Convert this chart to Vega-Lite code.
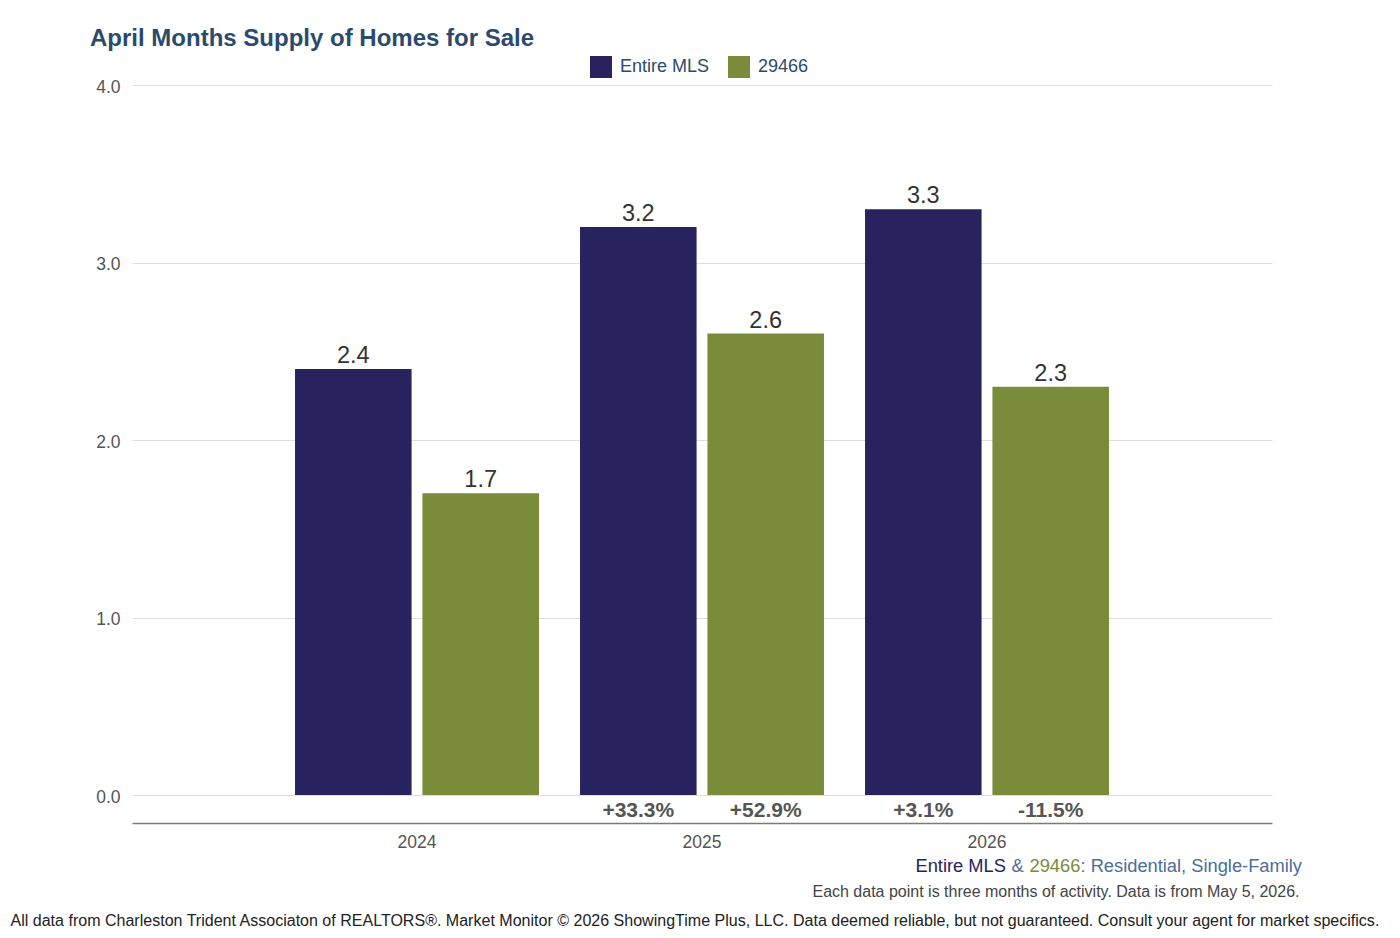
{
  "$schema": "https://vega.github.io/schema/vega-lite/v6.json",
  "autosize": {"type": "none"},
  "width": 1140,
  "height": 710,
  "padding": {"left": 132, "top": 85, "right": 128, "bottom": 143},
  "background": "#ffffff",
  "title": {
    "text": "April Months Supply of Homes for Sale",
    "anchor": "start",
    "frame": "group",
    "dx": -42,
    "dy": 5,
    "offset": 10,
    "font": "Liberation Sans",
    "fontSize": 24,
    "fontWeight": "bold",
    "color": "#2b4a6c"
  },
  "config": {
    "view": {"stroke": null},
    "font": "Liberation Sans",
    "axis": {"tickSize": 0, "ticks": false, "domain": false, "grid": false}
  },
  "data": {
    "values": [
      {"year": "2024", "series": "Entire MLS", "value": 2.4, "change": null},
      {"year": "2024", "series": "29466", "value": 1.7, "change": null},
      {"year": "2025", "series": "Entire MLS", "value": 3.2, "change": "+33.3%"},
      {"year": "2025", "series": "29466", "value": 2.6, "change": "+52.9%"},
      {"year": "2026", "series": "Entire MLS", "value": 3.3, "change": "+3.1%"},
      {"year": "2026", "series": "29466", "value": 2.3, "change": "-11.5%"}
    ]
  },
  "resolve": {"axis": {"x": "independent", "y": "independent"}},
  "layer": [
    {
      "mark": {"type": "bar"},
      "encoding": {
        "x": {
          "field": "year",
          "type": "ordinal",
          "scale": {"paddingInner": 0.144, "paddingOuter": 0.572},
          "axis": {
            "orient": "bottom",
            "offset": 28,
            "domain": true,
            "domainColor": "#7a7a7a",
            "domainWidth": 1.5,
            "labelAngle": 0,
            "labelFontSize": 17.5,
            "labelColor": "#555555",
            "labelPadding": 10,
            "title": "All data from Charleston Trident Associaton of REALTORS®. Market Monitor © 2026 ShowingTime Plus, LLC. Data deemed reliable, but not guaranteed. Consult your agent for market specifics.",
            "titleFontSize": 16.05,
            "titleFontWeight": "normal",
            "titleColor": "#222222",
            "titleAnchor": null,
            "titleAlign": "left",
            "titleBaseline": "middle",
            "titleX": -122,
            "titleY": 97
          }
        },
        "xOffset": {
          "field": "series",
          "type": "nominal",
          "sort": ["Entire MLS", "29466"],
          "scale": {"paddingInner": 0.085, "paddingOuter": 0}
        },
        "y": {
          "field": "value",
          "type": "quantitative",
          "scale": {"domain": [0, 4], "nice": false},
          "axis": {
            "orient": "left",
            "values": [0, 1, 2, 3, 4],
            "format": ".1f",
            "grid": true,
            "gridColor": "#dedede",
            "gridWidth": 1,
            "labelFontSize": 17.5,
            "labelColor": "#555555",
            "labelPadding": 12,
            "labelOffset": 2,
            "title": "Each data point is three months of activity. Data is from May 5, 2026.",
            "titleFontSize": 16,
            "titleFontWeight": "normal",
            "titleColor": "#444444",
            "titleAngle": 0,
            "titleAnchor": null,
            "titleAlign": "right",
            "titleBaseline": "middle",
            "titleX": 1167,
            "titleY": 806
          }
        },
        "color": {
          "field": "series",
          "type": "nominal",
          "sort": ["Entire MLS", "29466"],
          "scale": {"domain": ["Entire MLS", "29466"], "range": ["#28235f", "#7a8b3a"]},
          "legend": {
            "orient": "none",
            "legendX": 458,
            "legendY": -29,
            "direction": "horizontal",
            "title": null,
            "padding": 0,
            "symbolType": "square",
            "symbolSize": 484,
            "symbolStrokeWidth": 0,
            "symbolOpacity": 1,
            "labelFontSize": 18,
            "labelColor": "#2b4a6c",
            "labelOffset": 8,
            "columnPadding": 18
          }
        }
      }
    },
    {
      "mark": {"type": "text", "baseline": "alphabetic", "dy": -6, "fontSize": 23.5, "color": "#333333"},
      "encoding": {
        "x": {
          "field": "year",
          "type": "ordinal",
          "axis": {
            "orient": "bottom",
            "labels": false,
            "title": "Entire MLS",
            "titleFontSize": 18.3,
            "titleFontWeight": "normal",
            "titleColor": "#28235f",
            "titleAnchor": null,
            "titleAlign": "left",
            "titleBaseline": "middle",
            "titleX": 783,
            "titleY": 71
          }
        },
        "xOffset": {"field": "series", "type": "nominal", "sort": ["Entire MLS", "29466"]},
        "y": {
          "field": "value",
          "type": "quantitative",
          "axis": {
            "orient": "left",
            "labels": false,
            "title": "29466",
            "titleFontSize": 18.3,
            "titleFontWeight": "normal",
            "titleColor": "#7a8b3a",
            "titleAngle": 0,
            "titleAnchor": null,
            "titleAlign": "left",
            "titleBaseline": "middle",
            "titleX": 897,
            "titleY": 781
          }
        },
        "text": {"field": "value", "type": "quantitative", "format": ".1f"}
      }
    },
    {
      "transform": [{"filter": "datum.change != null"}],
      "mark": {"type": "text", "baseline": "middle", "dy": 16, "fontSize": 21, "fontWeight": "bold", "color": "#555555"},
      "encoding": {
        "x": {
          "field": "year",
          "type": "ordinal",
          "axis": {
            "orient": "bottom",
            "labels": false,
            "title": "&",
            "titleFontSize": 18.3,
            "titleFontWeight": "normal",
            "titleColor": "#4a6d9b",
            "titleAnchor": null,
            "titleAlign": "left",
            "titleBaseline": "middle",
            "titleX": 879,
            "titleY": 71
          }
        },
        "xOffset": {"field": "series", "type": "nominal", "sort": ["Entire MLS", "29466"]},
        "y": {
          "datum": 0,
          "type": "quantitative",
          "axis": {
            "orient": "left",
            "labels": false,
            "title": ": Residential, Single-Family",
            "titleFontSize": 18.3,
            "titleFontWeight": "normal",
            "titleColor": "#4a6d9b",
            "titleAngle": 0,
            "titleAnchor": null,
            "titleAlign": "left",
            "titleBaseline": "middle",
            "titleX": 948,
            "titleY": 781
          }
        },
        "text": {"field": "change", "type": "nominal"}
      }
    }
  ]
}
